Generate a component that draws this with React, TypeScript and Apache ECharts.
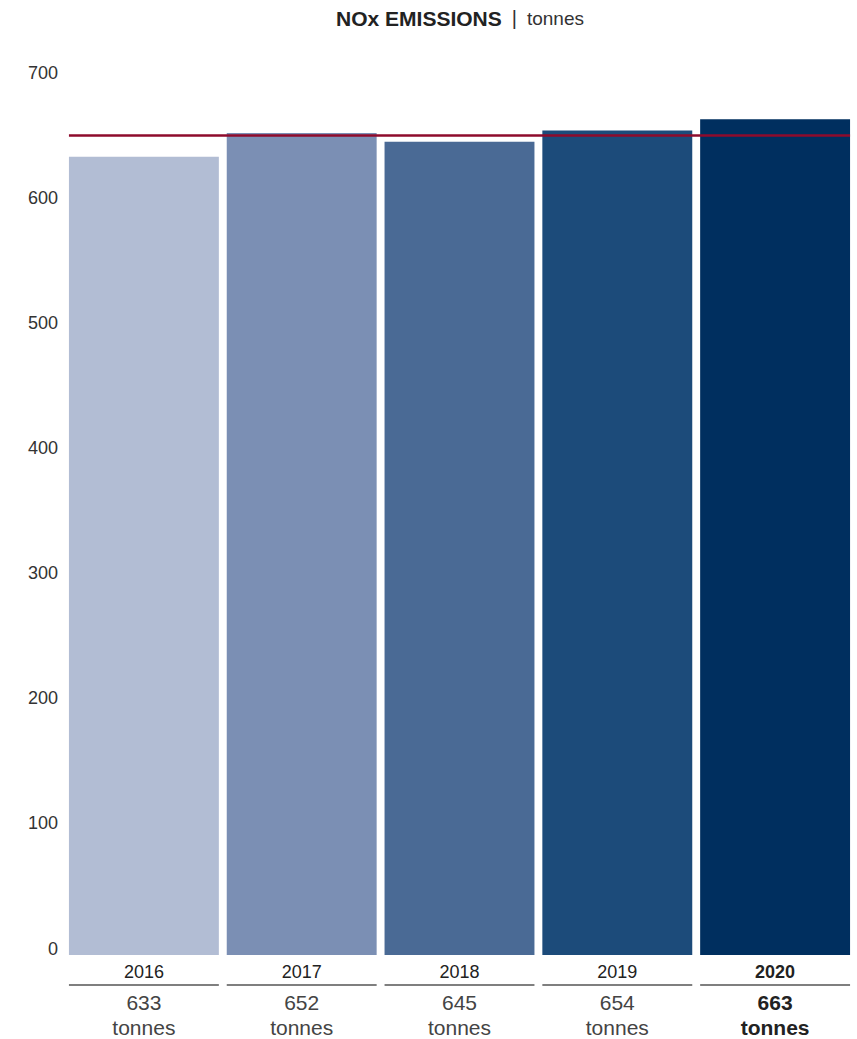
import { useEffect, useRef } from "react";
import * as echarts from "echarts";

// NOx emissions per year, in tonnes
const years = ["2016", "2017", "2018", "2019", "2020"];
const emissions = [633, 652, 645, 654, 663];
const barColors = ["#B2BDD4", "#7B8FB4", "#4A6A95", "#1C4B7A", "#002F5F"];
const referenceLevel = 650;
const unit = "tonnes";
const titleMain = "NOx EMISSIONS";

const yMin = 0;
const yMax = 700;
const yStep = 100;

const FONT = '"Liberation Sans", Arial, Helvetica, sans-serif';
const BAR_RATIO = 0.95;

export default function App() {
  const ref = useRef<HTMLDivElement>(null);

  useEffect(() => {
    document.body.style.margin = "0";
    if (!ref.current) return;
    const chart = echarts.init(ref.current, undefined, { renderer: "svg" });
    const lastIndex = years.length - 1;

    // one bar per year, with its year, a rule and the value underneath
    const barItem = (_params: any, api: any) => {
      const i = api.value(0) as number;
      const v = api.value(1) as number;
      const top = api.coord([i, v]);
      const zero = api.coord([i, 0]);
      const w = api.size([1, 0])[0] * BAR_RATIO;
      const x0 = top[0] - w / 2;
      const baseY = zero[1] + 6.5;
      const strong = i === lastIndex;
      const valueFill = strong ? "#222" : "#444";
      return {
        type: "group",
        children: [
          {
            type: "rect",
            shape: { x: x0, y: top[1], width: w, height: baseY - top[1] },
            style: { fill: barColors[i] },
          },
          {
            type: "text",
            style: {
              text: years[i],
              x: top[0],
              y: zero[1] + 23,
              align: "center",
              verticalAlign: "middle",
              fontFamily: FONT,
              fontSize: 18,
              fontWeight: strong ? "bold" : "normal",
              fill: "#222",
            },
          },
          {
            type: "line",
            shape: { x1: x0, y1: zero[1] + 36.5, x2: x0 + w, y2: zero[1] + 36.5 },
            style: { stroke: "#555", lineWidth: 1.3 },
          },
          {
            type: "text",
            style: {
              text: String(v),
              x: top[0],
              y: zero[1] + 54,
              align: "center",
              verticalAlign: "middle",
              fontFamily: FONT,
              fontSize: 21,
              fontWeight: strong ? "bold" : "normal",
              fill: valueFill,
            },
          },
          {
            type: "text",
            style: {
              text: unit,
              x: top[0],
              y: zero[1] + 78.5,
              align: "center",
              verticalAlign: "middle",
              fontFamily: FONT,
              fontSize: 21,
              fontWeight: strong ? "bold" : "normal",
              fill: valueFill,
            },
          },
        ],
      };
    };

    // horizontal reference level across all bars
    const levelItem = (_params: any, api: any) => {
      const v = api.value(1) as number;
      const w = api.size([1, 0])[0] * BAR_RATIO;
      const left = api.coord([0, v]);
      const right = api.coord([lastIndex, v]);
      return {
        type: "line",
        shape: { x1: left[0] - w / 2, y1: left[1], x2: right[0] + w / 2, y2: right[1] },
        style: { stroke: "#8E0B2C", lineWidth: 2.5 },
      };
    };

    chart.setOption({
      animation: false,
      grid: { left: 65, right: 3, top: 73, bottom: 90.5, containLabel: false },
      graphic: [
        {
          type: "text",
          x: 460,
          y: 18,
          style: {
            text: `{b|${titleMain}}{s||}{r|${unit}}`,
            align: "center",
            verticalAlign: "middle",
            rich: {
              b: { fontFamily: FONT, fontSize: 21, fontWeight: "bold", fill: "#222" },
              s: { fontFamily: FONT, fontSize: 20, fill: "#333", padding: [0, 10, 0, 10] },
              r: { fontFamily: FONT, fontSize: 19, fill: "#333" },
            },
          },
        },
      ],
      xAxis: {
        type: "category",
        data: years,
        show: false,
      },
      yAxis: {
        type: "value",
        min: yMin,
        max: yMax,
        interval: yStep,
        axisLine: { show: false },
        axisTick: { show: false },
        splitLine: { show: false },
        axisLabel: {
          margin: 7,
          fontFamily: FONT,
          fontSize: 18,
          color: "#333",
        },
      },
      series: [
        {
          type: "custom",
          clip: false,
          renderItem: barItem,
          data: emissions.map((v, i) => [i, v]),
          z: 2,
        },
        {
          type: "custom",
          clip: false,
          renderItem: levelItem,
          data: [[0, referenceLevel]],
          z: 3,
        },
      ],
    });

    return () => chart.dispose();
  }, []);

  return <div ref={ref} style={{ width: 857, height: 1039 }} />;
}
